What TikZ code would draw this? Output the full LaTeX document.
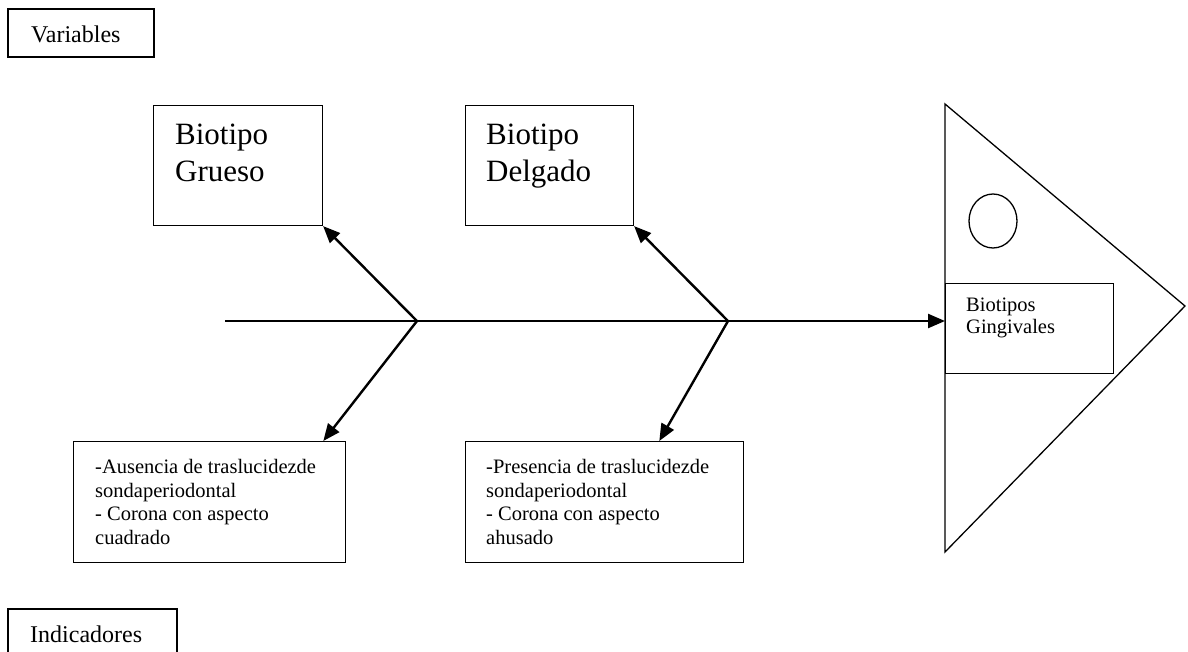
\documentclass[tikz,border=0pt]{standalone}
\usepackage{fontspec}
\setmainfont{Liberation Serif}
\usetikzlibrary{arrows.meta}
\begin{document}
\begin{tikzpicture}[x=1pt,y=-1pt,
  box/.style={draw=black,line width=1.3pt,fill=white},
  fbox/.style={draw=black,line width=1.1pt},
  txt/.style={anchor=north west,inner sep=0pt,align=left},
  big/.style={txt,font=\fontsize{31}{37}\selectfont},
  small/.style={txt,font=\fontsize{20.5}{23.5}\selectfont},
  lab/.style={txt,font=\fontsize{24}{28}\selectfont},
  arr/.style={line width=2.4pt,-{Triangle[length=17pt,width=14pt]}},
  spine/.style={line width=2.5pt}]
\useasboundingbox (0,0) rectangle (1188,651);
\clip (0,0) rectangle (1188,651);
\fill[white] (0,0) rectangle (1188,651);

% labels
\draw[box] (8,9) rectangle (154,57);
\node[lab] (var) at (31,25.6) {Variables};
\draw[box] (8,609) rectangle (177,670);
\node[lab] (ind) at (30,625.6) {Indicadores};

% head of the fish
\coordinate (tA) at (945,104);
\coordinate (tB) at (1185,306);
\coordinate (tC) at (945,552);
\draw[line width=1.3pt,line join=miter] (tA) -- (tB) -- (tC) -- cycle;
\draw[line width=1.3pt] (993,221) ellipse [x radius=24, y radius=27];
\node[fbox,fill=white,anchor=north west,minimum width=168pt,minimum height=90pt,inner sep=0pt] (bg) at (945,283) {};
\node[small,font=\fontsize{20.5}{21.7}\selectfont] (bgt) at (966,298) {Biotipos\\Gingivales};

% upper boxes
\node[fbox,anchor=north west,minimum width=169pt,minimum height=120pt,inner sep=0pt] (gru) at (153,105) {};
\node[big] (grut) at (175,123.8) {Biotipo\\Grueso};
\node[fbox,anchor=north west,minimum width=168pt,minimum height=120pt,inner sep=0pt] (del) at (465,105) {};
\node[big] (delt) at (486,123.8) {Biotipo\\Delgado};

% lower boxes
\node[box,anchor=north west,minimum width=272pt,minimum height=121pt,inner sep=0pt] (aus) at (73,441) {};
\node[small] (aust) at (95,459.3) {-Ausencia de traslucidezde\\sondaperiodontal\\- Corona con aspecto\\cuadrado};
\node[box,anchor=north west,minimum width=278pt,minimum height=121pt,inner sep=0pt] (pre) at (465,441) {};
\node[small] (pret) at (486,459.3) {-Presencia de traslucidezde\\sondaperiodontal\\- Corona con aspecto\\ahusado};

% spine and bones
\coordinate (s0) at (225,321);
\coordinate (j1) at (417,321);
\coordinate (j2) at (728,321);
\coordinate (hd) at (j2 -| bg.west);
\coordinate (a1) at ([xshift=-23pt]aus.north east);
\coordinate (a2) at ([xshift=-85pt]pre.north east);
\draw[spine] (s0) -- (j2);
\draw[arr] (j2) -- (hd);
\draw[arr] (j1) -- (gru.south east);
\draw[arr] (j2) -- (del.south east);
\draw[arr] (j1) -- (a1);
\draw[arr] (j2) -- (a2);
\end{tikzpicture}
\end{document}
